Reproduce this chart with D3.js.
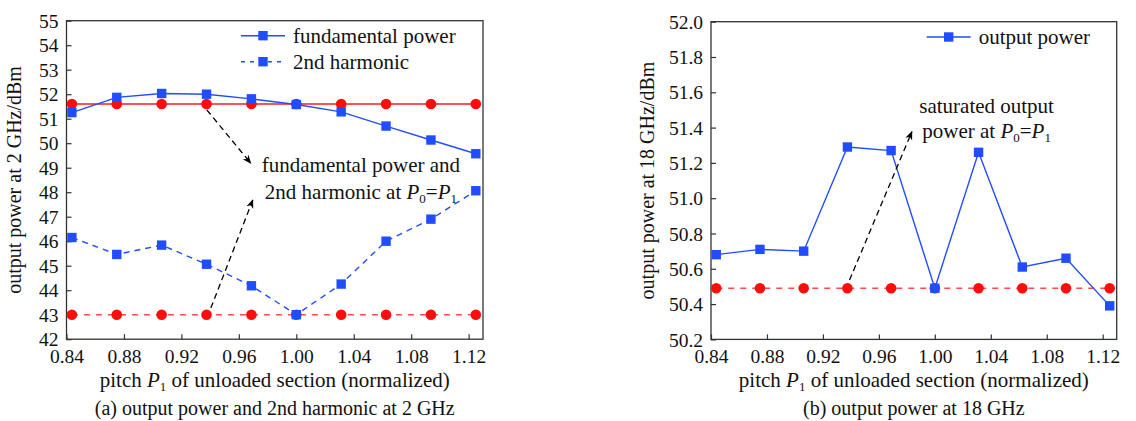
<!DOCTYPE html>
<html>
<head>
<meta charset="utf-8">
<script src="https://cdn.jsdelivr.net/npm/d3@7"></script>
<style>
  body { margin: 0; background: #fff; }
  svg, svg text { font-family: "Liberation Serif", "DejaVu Serif", serif !important; }
  svg text { fill: #111; }
</style>
</head>
<body>
<div id="chart"></div>
<script>
// pitch of unloaded section (normalized) - same for both panels
var pitch = [0.84375, 0.875, 0.90625, 0.9375, 0.96875, 1.0, 1.03125, 1.0625, 1.09375, 1.125];

// (a) 2 GHz
var fundamental2GHz = [51.25, 51.87, 52.03, 52.0, 51.81, 51.58, 51.28, 50.70, 50.13, 49.57];
var harmonic2GHz    = [46.15, 45.46, 45.84, 45.06, 44.18, 43.0, 44.25, 46.0, 46.9, 48.06];
var fundamentalRef  = [51.6, 51.6, 51.6, 51.6, 51.6, 51.6, 51.6, 51.6, 51.6, 51.6];
var harmonicRef     = [43.0, 43.0, 43.0, 43.0, 43.0, 43.0, 43.0, 43.0, 43.0, 43.0];

// (b) 18 GHz
var output18GHz = [50.68, 50.71, 50.70, 51.29, 51.27, 50.49, 51.26, 50.61, 50.66, 50.39];
var outputRef   = [50.49, 50.49, 50.49, 50.49, 50.49, 50.49, 50.49, 50.49, 50.49, 50.49];

// tick labels
var xTicks  = [0.84, 0.88, 0.92, 0.96, 1.00, 1.04, 1.08, 1.12];
var yTicksA = [42, 43, 44, 45, 46, 47, 48, 49, 50, 51, 52, 53, 54, 55];
var yTicksB = [50.2, 50.4, 50.6, 50.8, 51.0, 51.2, 51.4, 51.6, 51.8, 52.0];

var BLUE = "#1f4dff", RED = "#ff1a1a", RED_DASH = "#ff4a4a";
var SERIF = "'Liberation Serif', 'DejaVu Serif', serif";
var FS = 21;   // annotation / legend / axis title size

var svg = d3.select("#chart").append("svg")
            .attr("width", 1136)
            .attr("height", 421)
            .attr("font-family", SERIF);

svg.append("defs").append("marker")
   .attr("id", "arrow")
   .attr("viewBox", "0 0 10 10")
   .attr("refX", 9).attr("refY", 5)
   .attr("markerWidth", 7).attr("markerHeight", 7)
   .attr("orient", "auto")
   .append("path")
   .attr("d", "M0,1 L10,5 L0,9 L3,5 Z")
   .attr("fill", "#000");

// draws frame, axes and labels of one panel, returns the scales
function panel(opt) {
  var g = svg.append("g").attr("transform", "translate(" + opt.left + "," + opt.top + ")");
  var x = d3.scaleLinear().domain([0.84, 1.13]).range([0, opt.width]);
  var y = d3.scaleLinear().domain(opt.yDomain).range([opt.height, 0]);

  var xa = g.append("g")
    .attr("transform", "translate(0," + opt.height + ")")
    .call(d3.axisBottom(x).tickValues(xTicks).tickFormat(d3.format(".2f")).tickSizeInner(-5).tickSizeOuter(0).tickPadding(10));
  var ya = g.append("g")
    .call(d3.axisLeft(y).tickValues(opt.yTicks).tickFormat(opt.yFormat).tickSizeInner(-5).tickSizeOuter(0).tickPadding(8));
  [xa, ya].forEach(function(ax) {
    ax.attr("font-family", SERIF);
    ax.select(".domain").remove();
    ax.selectAll("line").attr("stroke", "#333").attr("stroke-width", 1.2);
    ax.selectAll("text").attr("font-size", 19.5).attr("fill", "#111");
  });
  xa.selectAll("text").attr("dy", "0.71em");
  ya.selectAll("text").attr("dy", "0.34em");

  g.append("rect")
   .attr("width", opt.width).attr("height", opt.height)
   .attr("fill", "none").attr("stroke", "#333").attr("stroke-width", 1.3);

  // x title with subscript
  var xt = g.append("text")
    .attr("x", opt.width / 2).attr("y", opt.height + 48)
    .attr("text-anchor", "middle").attr("font-size", FS);
  xt.append("tspan").text("pitch ");
  xt.append("tspan").attr("font-style", "italic").text("P");
  xt.append("tspan").attr("font-size", 13).attr("dy", 4).text("1");
  xt.append("tspan").attr("dy", -4).text(" of unloaded section (normalized)");

  g.append("text")
   .attr("transform", "translate(" + opt.yTitleX + "," + (opt.height / 2) + ") rotate(-90)")
   .attr("text-anchor", "middle").attr("font-size", 20)
   .text(opt.yTitle);

  g.append("text")
   .attr("x", opt.width / 2).attr("y", opt.height + 76)
   .attr("text-anchor", "middle").attr("font-size", 20)
   .text(opt.caption);

  return { g: g, x: x, y: y };
}

function series(p, values, color, dash, shape) {
  var line = d3.line().x(function(d, i) { return p.x(pitch[i]); }).y(function(d) { return p.y(d); });
  p.g.append("path").datum(values)
   .attr("d", line).attr("fill", "none")
   .attr("stroke", color).attr("stroke-width", 1.4)
   .attr("stroke-dasharray", dash);
  if (shape === "square") {
    p.g.selectAll(null).data(values).enter().append("rect")
     .attr("x", function(d, i) { return p.x(pitch[i]) - 4.7; })
     .attr("y", function(d) { return p.y(d) - 4.7; })
     .attr("width", 9.4).attr("height", 9.4)
     .attr("fill", color);
  } else {
    p.g.selectAll(null).data(values).enter().append("circle")
     .attr("cx", function(d, i) { return p.x(pitch[i]); })
     .attr("cy", function(d) { return p.y(d); })
     .attr("r", 5.3).attr("fill", "#ff0d0d");
  }
}

function arrow(p, x0, y0, x1, y1) {
  p.g.append("line")
   .attr("x1", p.x(x0)).attr("y1", p.y(y0))
   .attr("x2", p.x(x1)).attr("y2", p.y(y1))
   .attr("stroke", "#000").attr("stroke-width", 1.3)
   .attr("stroke-dasharray", "6,4")
   .attr("marker-end", "url(#arrow)");
}

// "... at P0=P1" text line
function subText(p, x, y, before) {
  var t = p.g.append("text")
    .attr("x", p.x(x)).attr("y", p.y(y))
    .attr("text-anchor", "middle").attr("font-size", FS);
  t.append("tspan").text(before);
  t.append("tspan").attr("font-style", "italic").text("P");
  t.append("tspan").attr("font-size", 13).attr("dy", 4).text("0");
  t.append("tspan").attr("dy", -4).text("=");
  t.append("tspan").attr("font-style", "italic").text("P");
  t.append("tspan").attr("font-size", 13).attr("dy", 4).text("1");
}

function legendRow(p, lx, ly, color, dash, label) {
  p.g.append("line")
   .attr("x1", lx).attr("x2", lx + 44).attr("y1", ly).attr("y2", ly)
   .attr("stroke", color).attr("stroke-width", 1.4).attr("stroke-dasharray", dash);
  p.g.append("rect")
   .attr("x", lx + 22 - 4.7).attr("y", ly - 4.7).attr("width", 9.4).attr("height", 9.4)
   .attr("fill", color);
  p.g.append("text")
   .attr("x", lx + 52).attr("y", ly).attr("dy", "0.33em")
   .attr("font-size", FS).text(label);
}

/* ---------------- (a) 2 GHz ---------------- */
var a = panel({
  left: 66.5, top: 20.7, width: 416.5, height: 318.5,
  yDomain: [42, 55], yTicks: yTicksA, yFormat: d3.format("d"),
  yTitle: "output power at 2 GHz/dBm", yTitleX: -46,
  caption: "(a) output power and 2nd harmonic at 2 GHz"
});
series(a, fundamentalRef, RED, null, "circle");
series(a, harmonicRef, RED_DASH, "6,6", "circle");
series(a, fundamental2GHz, BLUE, null, "square");
series(a, harmonic2GHz, BLUE, "6,5", "square");

arrow(a, 0.9377, 51.36, 0.9683, 49.18);
arrow(a, 0.9405, 43.27, 0.9697, 47.68);
a.g.append("text")
 .attr("x", a.x(1.045)).attr("y", a.y(48.83))
 .attr("text-anchor", "middle").attr("font-size", FS)
 .text("fundamental power and");
subText(a, 1.045, 47.72, "2nd harmonic at ");

legendRow(a, 174.5, 15, BLUE, null, "fundamental power");
legendRow(a, 174.5, 41, BLUE, "4,5", "2nd harmonic");

/* ---------------- (b) 18 GHz ---------------- */
var b = panel({
  left: 711, top: 21.7, width: 405.7, height: 317.7,
  yDomain: [50.2, 52.0], yTicks: yTicksB, yFormat: d3.format(".1f"),
  yTitle: "output power at 18 GHz/dBm", yTitleX: -57,
  caption: "(b) output power at 18 GHz"
});
series(b, outputRef, RED_DASH, "6,6", "circle");
series(b, output18GHz, BLUE, null, "square");

arrow(b, 0.939, 50.536, 0.9836, 51.377);
b.g.append("text")
 .attr("x", b.x(1.037)).attr("y", b.y(51.48))
 .attr("text-anchor", "middle").attr("font-size", FS)
 .text("saturated output");
subText(b, 1.037, 51.34, "power at ");

legendRow(b, 215.7, 15.3, BLUE, null, "output power");
</script>
</body>
</html>
